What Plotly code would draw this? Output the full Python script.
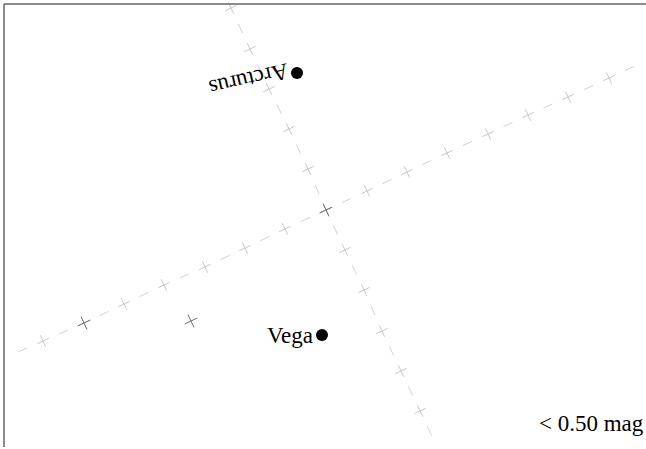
import math
import plotly.graph_objects as go

# ---- data (chart units) ----
grid_a_x = [231, 250, 269, 289, 308, 326, 345, 364, 382, 401, 420]
grid_a_y = [8, 49, 89, 129, 169, 210, 250, 290, 331, 371, 411]
grid_b_x = [43, 84, 124, 164, 205, 245, 285, 326, 367, 407, 447, 488, 528, 568, 609]
grid_b_y = [341, 323, 304, 285, 267, 248, 229, 210, 191, 172, 153, 134, 115, 97, 78]

faint_x = [326, 84, 191]
faint_y = [210, 323, 321]

star_names = ["Arcturus", "Vega"]
star_x = [297, 322]
star_y = [73, 335]

legend_text = "< 0.50 mag"

FONT = "Liberation Serif, Times New Roman, serif"


def dash_segments(xs, ys, half=5.0):
    px, py = [], []
    pts = list(zip(xs, ys))
    first = (2 * xs[0] - xs[1], 2 * ys[0] - ys[1])
    last = (2 * xs[-1] - xs[-2], 2 * ys[-1] - ys[-2])
    pts = [first] + pts + [last]
    for (x0, y0), (x1, y1) in zip(pts[:-1], pts[1:]):
        mx, my = (x0 + x1) / 2, (y0 + y1) / 2
        d = math.hypot(x1 - x0, y1 - y0)
        ux, uy = (x1 - x0) / d, (y1 - y0) / d
        px += [mx - ux * half, mx + ux * half, None]
        py += [my - uy * half, my + uy * half, None]
    return px, py


fig = go.Figure()

for gx, gy in [(grid_a_x, grid_a_y), (grid_b_x, grid_b_y)]:
    dx, dy = dash_segments(gx, gy)
    fig.add_trace(go.Scatter(x=dx, y=dy, mode="lines",
                             line=dict(color="#d2d2d2", width=1),
                             hoverinfo="skip", showlegend=False))
    fig.add_trace(go.Scatter(x=gx, y=gy, mode="markers",
                             marker=dict(symbol="cross-thin", size=9, angle=-25,
                                         line=dict(color="#c8c8c8", width=1)),
                             hoverinfo="skip", showlegend=False))

fig.add_trace(go.Scatter(x=faint_x, y=faint_y, mode="markers",
                         marker=dict(symbol="cross-thin", size=10, angle=-25,
                                     line=dict(color="#707070", width=1)),
                         hoverinfo="skip", showlegend=False))

fig.add_trace(go.Scatter(x=star_x, y=star_y, mode="markers",
                         marker=dict(symbol="circle", size=12, color="black"),
                         text=star_names, hoverinfo="text", showlegend=False))

# labels
fig.add_annotation(x=star_x[0] - 48, y=star_y[0] + 7, text=star_names[0],
                   textangle=167, showarrow=False, xanchor="center", yanchor="middle",
                   font=dict(family=FONT, size=23, color="black"))
fig.add_annotation(x=star_x[1] - 7, y=star_y[1], text=star_names[1],
                   showarrow=False, xanchor="right", yanchor="middle",
                   font=dict(family=FONT, size=23, color="black"))
fig.add_annotation(x=646, y=423, text=legend_text, showarrow=False,
                   xanchor="right", yanchor="middle",
                   font=dict(family=FONT, size=23, color="black"))

# frame
fig.add_shape(type="line", x0=4, y0=4, x1=646, y1=4,
              line=dict(color="#666666", width=1.5))
fig.add_shape(type="line", x0=4, y0=4, x1=4, y1=447,
              line=dict(color="#666666", width=1.5))

fig.update_layout(
    width=646, height=449,
    margin=dict(l=0, r=0, t=0, b=0),
    paper_bgcolor="white", plot_bgcolor="white",
    xaxis=dict(range=[0, 646], visible=False, fixedrange=True),
    yaxis=dict(range=[449, 0], visible=False, fixedrange=True),
)

fig.write_html("out.html", config={"displayModeBar": False},
               post_script="document.body.style.margin='0';document.body.style.overflow='hidden';")
